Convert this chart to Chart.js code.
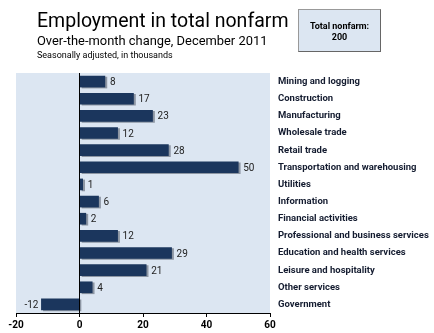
<!DOCTYPE html>
<html>
<head>
<meta charset="utf-8">
<script src="https://cdn.jsdelivr.net/npm/chart.js@4/dist/chart.umd.min.js"></script>
<style>
  body { margin:0; background:#fff; }
  #wrap { position:relative; width:434px; height:333px; font-family:Roboto,sans-serif; }
  #chart { position:absolute; left:0; top:0; }
  .t1 { position:absolute; left:37px; top:9px; font-size:19.5px; color:#000; white-space:nowrap; }
  .t2 { position:absolute; left:37px; top:33px; font-size:12.9px; color:#000; white-space:nowrap; }
  .t3 { position:absolute; left:37px; top:50px; font-size:9px; color:#000; white-space:nowrap; }
  .box { position:absolute; left:298px; top:9px; width:81px; height:41px; background:#dce6f2;
         border:1px solid #999; border-right-color:#666; border-bottom-color:#666;
         font-size:9px; font-weight:bold; text-align:center; line-height:11px; }
  .box span { display:block; margin-top:11px; }
</style>
</head>
<body>
<div id="wrap">
  <canvas id="chart" width="434" height="333"></canvas>
  <div class="t1">Employment in total nonfarm</div>
  <div class="t2">Over-the-month change, December 2011</div>
  <div class="t3">Seasonally adjusted, in thousands</div>
  <div class="box"><span>Total nonfarm:<br>200</span></div>
</div>
<script>
// =====================================
// DATA
// =====================================

const industries = [
    "Mining and logging",
    "Construction",
    "Manufacturing",
    "Wholesale trade",
    "Retail trade",
    "Transportation and warehousing",
    "Utilities",
    "Information",
    "Financial activities",
    "Professional and business services",
    "Education and health services",
    "Leisure and hospitality",
    "Other services",
    "Government"
];

const changes = [8,17,23,12,28,50,1,6,2,12,29,21,4,-12];

const xTicks = [-20,0,20,40,60];


// =====================================
// PLUGINS
// =====================================

const plotBackground = {
    id:"plotBackground",
    beforeDraw(chart){
        const {ctx, chartArea:a} = chart;
        ctx.save();
        ctx.fillStyle = "#dce6f2";
        ctx.fillRect(a.left, a.top, a.right - a.left, a.bottom - a.top);
        ctx.restore();
    }
};

const barShadow = {
    id:"barShadow",
    beforeDatasetsDraw(chart){
        const ctx = chart.ctx;
        ctx.save();
        ctx.shadowColor = "#8d96a3";
        ctx.shadowOffsetX = 2;
        ctx.shadowOffsetY = 1;
        ctx.shadowBlur = 0;
    },
    afterDatasetsDraw(chart){
        chart.ctx.restore();
    }
};

const zeroLineAndLabels = {
    id:"zeroLineAndLabels",
    afterDatasetsDraw(chart){
        const {ctx, chartArea:a, scales} = chart;
        const x0 = scales.x.getPixelForValue(0);

        ctx.save();
        ctx.strokeStyle = "#000";
        ctx.lineWidth = 1;
        ctx.beginPath();
        ctx.moveTo(Math.round(x0) - 0.5, a.top);
        ctx.lineTo(Math.round(x0) - 0.5, a.bottom);
        ctx.stroke();

        ctx.font = "10px Roboto, sans-serif";
        ctx.fillStyle = "#222";
        ctx.textBaseline = "middle";

        chart.getDatasetMeta(0).data.forEach((bar, i)=>{
            const v = changes[i];
            if(v >= 0){
                ctx.textAlign = "left";
                ctx.fillText(String(v), bar.x + 5, bar.y + 1);
            }else{
                ctx.textAlign = "right";
                ctx.fillText(String(v), bar.x - 3, bar.y + 1);
            }
        });
        ctx.restore();
    }
};


// =====================================
// CHART
// =====================================

new Chart(document.getElementById("chart"),{

    type:"bar",

    data:{
        labels:industries,
        datasets:[{
            data:changes,
            backgroundColor:"#1b365d",
            barThickness:11,
            borderWidth:0
        }]
    },

    options:{
        indexAxis:"y",
        responsive:false,
        animation:false,
        layout:{
            padding:{ left:16, top:73, right:0, bottom:0 }
        },
        plugins:{
            legend:{ display:false },
            tooltip:{ enabled:false }
        },
        scales:{
            x:{
                min:-20,
                max:60,
                afterBuildTicks(scale){
                    scale.ticks = xTicks.map(v=>({ value:v }));
                },
                grid:{
                    drawOnChartArea:false,
                    drawTicks:true,
                    tickLength:4,
                    color:"#000"
                },
                border:{ color:"#000" },
                ticks:{
                    color:"#000",
                    padding:2,
                    font:{ family:"Roboto, sans-serif", size:10, weight:"bold" }
                }
            },
            y:{
                position:"right",
                grid:{ display:false },
                border:{ display:false },
                afterFit(scale){
                    scale.width = 164;
                },
                ticks:{
                    padding:0,
                    color:"#141c30",
                    font:{ family:"Roboto, sans-serif", size:9.5, weight:"bold" }
                }
            }
        }
    },

    plugins:[plotBackground, barShadow, zeroLineAndLabels]

});
</script>
</body>
</html>
